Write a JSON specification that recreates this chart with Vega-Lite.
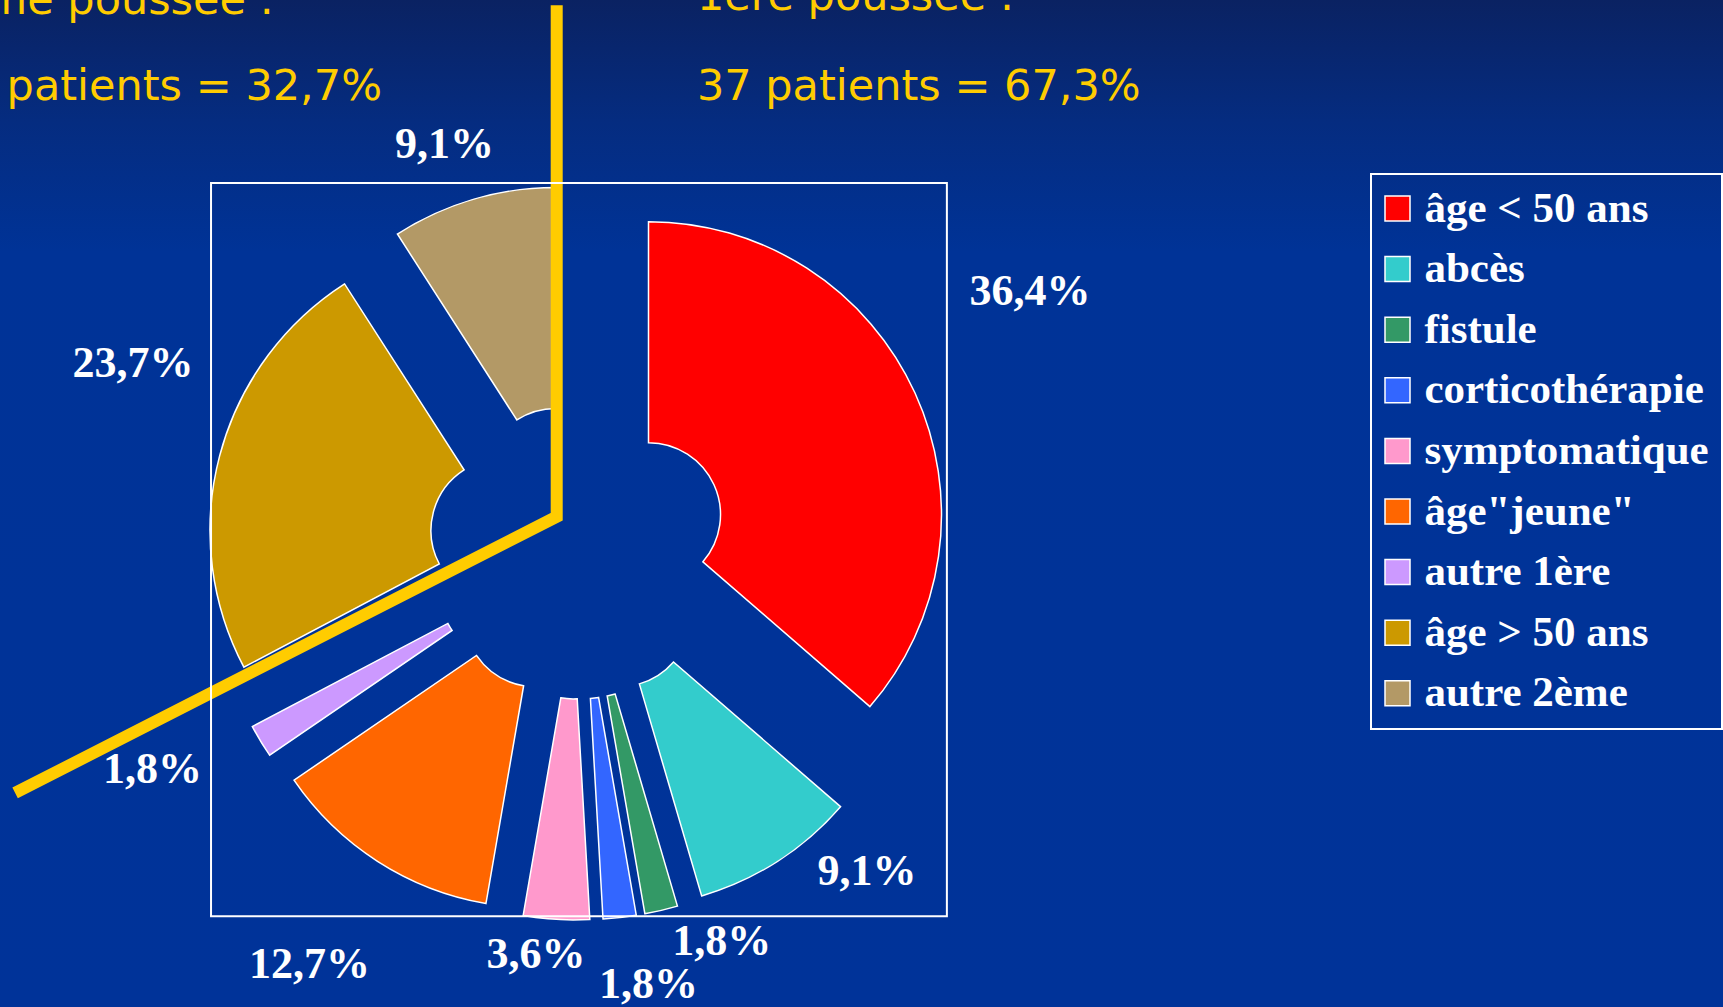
{
  "$schema": "https://vega.github.io/schema/vega-lite/v6.json",
  "width": 1723,
  "height": 1007,
  "padding": 0,
  "autosize": "none",
  "background": "#003399",
  "config": {
    "view": {"stroke": null},
    "legend": {"strokeWidth": 2}
  },
  "datasets": {
    "slices": [
      {"cat": "âge < 50 ans", "n": 20, "label": "36,4%"},
      {"cat": "abcès", "n": 5, "label": "9,1%"},
      {"cat": "fistule", "n": 1, "label": "1,8%"},
      {"cat": "corticothérapie", "n": 1, "label": "1,8%"},
      {"cat": "symptomatique", "n": 2, "label": "3,6%"},
      {"cat": "âge\"jeune\"", "n": 7, "label": "12,7%"},
      {"cat": "autre 1ère", "n": 1, "label": "1,8%"},
      {"cat": "âge > 50 ans", "n": 13, "label": "23,7%"},
      {"cat": "autre 2ème", "n": 5, "label": "9,1%"}
    ],
    "divider": [
      {"o": 1, "x": -7.12, "y": 186.6},
      {"o": 2, "x": -7.12, "y": 11.4},
      {"o": 3, "x": -192.6, "y": -83.2}
    ],
    "headRight": [
      {"t": "2ème poussée :", "x": -103.9, "y": 183.6},
      {"t": "18 patients = 32,7%", "x": -66.95, "y": 154.1}
    ],
    "headLeft": [
      {"t": "1ère poussée :", "x": 40.9, "y": 184.9},
      {"t": "37 patients = 67,3%", "x": 40.9, "y": 154.1}
    ]
  },
  "layer": [
    {
      "data": {"values": [{"x0": -197.77, "x1": 392.29, "y0": -156.51, "y1": 188.36}]},
      "mark": {
        "type": "rect",
        "color": {
          "gradient": "linear", "x1": 0, "y1": 0, "x2": 0, "y2": 1,
          "stops": [
            {"offset": 0, "color": "#0a2262"},
            {"offset": 0.12, "color": "#052c80"},
            {"offset": 0.25, "color": "#003397"},
            {"offset": 1, "color": "#003399"}
          ]
        }
      },
      "encoding": {
        "x": {"field": "x0", "type": "quantitative", "scale": {"domain": [-197.77, 392.29], "nice": false, "zero": false}, "axis": null},
        "x2": {"field": "x1"},
        "y": {"field": "y0", "type": "quantitative", "scale": {"domain": [-156.51, 188.36], "nice": false, "zero": false}, "axis": null},
        "y2": {"field": "y1"}
      }
    },
    {
      "data": {"name": "slices"},
      "transform": [{"stack": "n", "groupby": [], "as": ["t0", "t1"]}],
      "encoding": {
        "x": {"datum": 0, "type": "quantitative", "scale": {"domain": [-197.77, 392.29], "nice": false, "zero": false}, "axis": null},
        "y": {"datum": 0, "type": "quantitative", "scale": {"domain": [-156.51, 188.36], "nice": false, "zero": false}, "axis": null},
        "color": {
          "field": "cat", "type": "nominal",
          "scale": {
            "domain": ["âge < 50 ans", "abcès", "fistule", "corticothérapie", "symptomatique", "âge\"jeune\"", "autre 1ère", "âge > 50 ans", "autre 2ème"],
            "range": ["#ff0000", "#33cccc", "#339966", "#3366ff", "#ff99cc", "#ff6600", "#cc99ff", "#cc9900", "#b39966"]
          },
          "legend": {
            "orient": "none", "legendX": 1371, "legendY": 174, "title": null,
            "symbolType": "square", "symbolSize": 625, "symbolStrokeColor": "white", "symbolStrokeWidth": 1.5, "symbolOpacity": 1,
            "symbolOffset": -8,
            "labelColor": "white", "labelFont": "Liberation Serif", "labelFontWeight": "bold", "labelFontSize": 43,
            "labelLimit": 500, "labelOffset": 5.4, "rowPadding": 16.6, "padding": 13, "strokeColor": "white"
          }
        }
      },
      "layer": [
        {"transform": [{"filter": {"field": "cat", "equal": "âge < 50 ans"}}], "layer": [
          {"mark": {"type": "arc", "outerRadius": 293, "innerRadius": 72, "stroke": "white", "strokeWidth": 1.5, "xOffset": 71.0, "yOffset": -35.3},
           "encoding": {"theta": {"field": "t0", "type": "quantitative", "scale": {"domain": [0, 55], "range": [0, 6.283185307179586]}}, "theta2": {"field": "t1"}}},
          {"mark": {"type": "text", "radius": 521, "theta": 1.052, "align": "center", "baseline": "middle", "font": "Liberation Serif", "fontWeight": "bold", "fontSize": 44},
           "encoding": {"text": {"field": "label"}, "color": {"value": "white"}}}
        ]},
        {"transform": [{"filter": {"field": "cat", "equal": "abcès"}}], "layer": [
          {"mark": {"type": "arc", "outerRadius": 293, "innerRadius": 72, "stroke": "white", "strokeWidth": 1.5, "xOffset": 41.6, "yOffset": 64.8},
           "encoding": {"theta": {"field": "t0", "type": "quantitative", "scale": {"domain": [0, 55], "range": [0, 6.283185307179586]}}, "theta2": {"field": "t1"}}},
          {"mark": {"type": "text", "radius": 433, "theta": 2.409, "align": "center", "baseline": "middle", "font": "Liberation Serif", "fontWeight": "bold", "fontSize": 44},
           "encoding": {"text": {"field": "label"}, "color": {"value": "white"}}}
        ]},
        {"transform": [{"filter": {"field": "cat", "equal": "fistule"}}], "layer": [
          {"mark": {"type": "arc", "outerRadius": 293, "innerRadius": 72, "stroke": "white", "strokeWidth": 1.5, "xOffset": 17.4, "yOffset": 75.0},
           "encoding": {"theta": {"field": "t0", "type": "quantitative", "scale": {"domain": [0, 55], "range": [0, 6.283185307179586]}}, "theta2": {"field": "t1"}}},
          {"mark": {"type": "text", "radius": 417.6, "theta": 2.789, "align": "center", "baseline": "middle", "font": "Liberation Serif", "fontWeight": "bold", "fontSize": 44},
           "encoding": {"text": {"field": "label"}, "color": {"value": "white"}}}
        ]},
        {"transform": [{"filter": {"field": "cat", "equal": "corticothérapie"}}], "layer": [
          {"mark": {"type": "arc", "outerRadius": 293, "innerRadius": 72, "stroke": "white", "strokeWidth": 1.5, "xOffset": 8.8, "yOffset": 76.5},
           "encoding": {"theta": {"field": "t0", "type": "quantitative", "scale": {"domain": [0, 55], "range": [0, 6.283185307179586]}}, "theta2": {"field": "t1"}}},
          {"mark": {"type": "text", "radius": 440.8, "theta": 2.980, "align": "center", "baseline": "middle", "font": "Liberation Serif", "fontWeight": "bold", "fontSize": 44},
           "encoding": {"text": {"field": "label"}, "color": {"value": "white"}}}
        ]},
        {"transform": [{"filter": {"field": "cat", "equal": "symptomatique"}}], "layer": [
          {"mark": {"type": "arc", "outerRadius": 293, "innerRadius": 72, "stroke": "white", "strokeWidth": 1.5, "xOffset": -4.4, "yOffset": 76.9},
           "encoding": {"theta": {"field": "t0", "type": "quantitative", "scale": {"domain": [0, 55], "range": [0, 6.283185307179586]}}, "theta2": {"field": "t1"}}},
          {"mark": {"type": "text", "radius": 407, "theta": 3.244, "align": "center", "baseline": "middle", "font": "Liberation Serif", "fontWeight": "bold", "fontSize": 44},
           "encoding": {"text": {"field": "label"}, "color": {"value": "white"}}}
        ]},
        {"transform": [{"filter": {"field": "cat", "equal": "âge\"jeune\""}}], "layer": [
          {"mark": {"type": "arc", "outerRadius": 293, "innerRadius": 72, "stroke": "white", "strokeWidth": 1.5, "xOffset": -41.6, "yOffset": 64.8},
           "encoding": {"theta": {"field": "t0", "type": "quantitative", "scale": {"domain": [0, 55], "range": [0, 6.283185307179586]}}, "theta2": {"field": "t1"}}},
          {"mark": {"type": "text", "radius": 494, "theta": 3.715, "align": "center", "baseline": "middle", "font": "Liberation Serif", "fontWeight": "bold", "fontSize": 44},
           "encoding": {"text": {"field": "label"}, "color": {"value": "white"}}}
        ]},
        {"transform": [{"filter": {"field": "cat", "equal": "autre 1ère"}}], "layer": [
          {"mark": {"type": "arc", "outerRadius": 293, "innerRadius": 72, "stroke": "white", "strokeWidth": 1.5, "xOffset": -66.0, "yOffset": 39.8},
           "encoding": {"theta": {"field": "t0", "type": "quantitative", "scale": {"domain": [0, 55], "range": [0, 6.283185307179586]}}, "theta2": {"field": "t1"}}},
          {"mark": {"type": "text", "radius": 478.6, "theta": 4.235, "align": "center", "baseline": "middle", "font": "Liberation Serif", "fontWeight": "bold", "fontSize": 44},
           "encoding": {"text": {"field": "label"}, "color": {"value": "white"}}}
        ]},
        {"transform": [{"filter": {"field": "cat", "equal": "âge > 50 ans"}}], "layer": [
          {"mark": {"type": "arc", "outerRadius": 293, "innerRadius": 72, "stroke": "white", "strokeWidth": 1.5, "xOffset": -74.5, "yOffset": -19.6},
           "encoding": {"theta": {"field": "t0", "type": "quantitative", "scale": {"domain": [0, 55], "range": [0, 6.283185307179586]}}, "theta2": {"field": "t1"}}},
          {"mark": {"type": "text", "radius": 481.8, "theta": 5.108, "align": "center", "baseline": "middle", "font": "Liberation Serif", "fontWeight": "bold", "fontSize": 44},
           "encoding": {"text": {"field": "label"}, "color": {"value": "white"}}}
        ]},
        {"transform": [{"filter": {"field": "cat", "equal": "autre 2ème"}}], "layer": [
          {"mark": {"type": "arc", "outerRadius": 293, "innerRadius": 72, "stroke": "white", "strokeWidth": 1.5, "xOffset": -21.7, "yOffset": -69.5},
           "encoding": {"theta": {"field": "t0", "type": "quantitative", "scale": {"domain": [0, 55], "range": [0, 6.283185307179586]}}, "theta2": {"field": "t1"}}},
          {"mark": {"type": "text", "radius": 426.3, "theta": 5.966, "align": "center", "baseline": "middle", "font": "Liberation Serif", "fontWeight": "bold", "fontSize": 44},
           "encoding": {"text": {"field": "label"}, "color": {"value": "white"}}}
        ]}
      ]
    },
    {
      "data": {"name": "divider"},
      "mark": {"type": "line", "color": "#ffcc00", "strokeWidth": 12, "strokeJoin": "miter", "strokeCap": "butt"},
      "encoding": {
        "x": {"field": "x", "type": "quantitative", "scale": {"domain": [-197.77, 392.29], "nice": false, "zero": false}, "axis": null},
        "y": {"field": "y", "type": "quantitative", "scale": {"domain": [-156.51, 188.36], "nice": false, "zero": false}, "axis": null},
        "order": {"field": "o"}
      }
    },
    {
      "data": {"values": [{"x0": -125.5, "x1": 126.5, "y0": -125.4, "y1": 125.7}]},
      "mark": {"type": "rect", "filled": false, "stroke": "white", "strokeWidth": 2},
      "encoding": {
        "x": {"field": "x0", "type": "quantitative", "scale": {"domain": [-197.77, 392.29], "nice": false, "zero": false}, "axis": null},
        "x2": {"field": "x1"},
        "y": {"field": "y0", "type": "quantitative", "scale": {"domain": [-156.51, 188.36], "nice": false, "zero": false}, "axis": null},
        "y2": {"field": "y1"}
      }
    },
    {
      "data": {"name": "headRight"},
      "mark": {"type": "text", "align": "right", "baseline": "alphabetic", "font": "DejaVu Sans", "fontSize": 43, "color": "#ffcc00"},
      "encoding": {
        "x": {"field": "x", "type": "quantitative", "scale": {"domain": [-197.77, 392.29], "nice": false, "zero": false}, "axis": null},
        "y": {"field": "y", "type": "quantitative", "scale": {"domain": [-156.51, 188.36], "nice": false, "zero": false}, "axis": null},
        "text": {"field": "t"}
      }
    },
    {
      "data": {"name": "headLeft"},
      "mark": {"type": "text", "align": "left", "baseline": "alphabetic", "font": "DejaVu Sans", "fontSize": 43, "color": "#ffcc00"},
      "encoding": {
        "x": {"field": "x", "type": "quantitative", "scale": {"domain": [-197.77, 392.29], "nice": false, "zero": false}, "axis": null},
        "y": {"field": "y", "type": "quantitative", "scale": {"domain": [-156.51, 188.36], "nice": false, "zero": false}, "axis": null},
        "text": {"field": "t"}
      }
    }
  ]
}
